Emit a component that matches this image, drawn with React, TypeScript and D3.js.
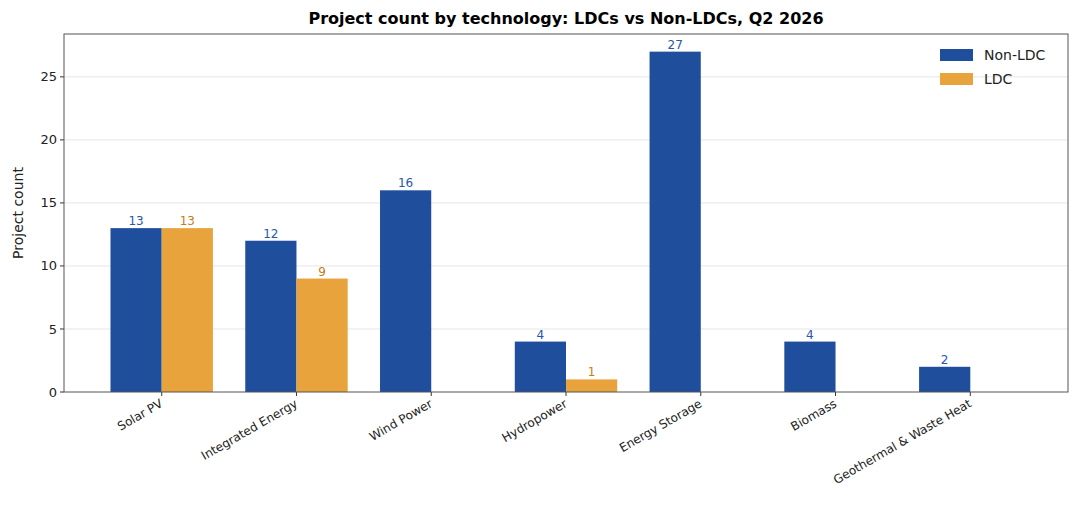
import React from "react";
import * as d3 from "d3";

const categories = ["Solar PV", "Integrated Energy", "Wind Power", "Hydropower", "Energy Storage", "Biomass", "Geothermal & Waste Heat"];
const nonLdc = [13, 12, 16, 4, 27, 4, 2];
const ldc = [13, 9, 0, 1, 0, 0, 0];
const yTicks = [0, 5, 10, 15, 20, 25];

const W = 1080, H = 516;
const L = 64, R = 1068, T = 34, B = 392;
const BLUE = "#1f4e9c", ORANGE = "#e8a33d";
const font = "DejaVu Sans, sans-serif";

export default function App() {
  const x = d3.scaleLinear().domain([-0.725, categories.length - 1 + 0.725]).range([L, R]);
  const y = d3.scaleLinear().domain([0, 28.4]).range([B, T]);
  const step = x(1) - x(0);
  const bw = step * 0.38;
  return (
    <svg width={W} height={H} style={{ position: "absolute", left: 0, top: 0 }} fontFamily={font}>
      <rect width={W} height={H} fill="#fff" />
      <text x={(L + R) / 2} y={24} textAnchor="middle" fontSize={16} fontWeight="bold">
        Project count by technology: LDCs vs Non-LDCs, Q2 2026
      </text>
      {yTicks.map((t) => (
        <g key={t}>
          {t > 0 && <line x1={L} x2={R} y1={y(t)} y2={y(t)} stroke="#e6e6e6" strokeWidth={1} />}
          <line x1={L - 4} x2={L} y1={y(t)} y2={y(t)} stroke="#333" />
          <text x={L - 7} y={y(t)} dy="0.35em" textAnchor="end" fontSize={13} fill="#222">{t}</text>
        </g>
      ))}
      {categories.map((c, i) => {
        const cx = x(i);
        return (
          <g key={c}>
            {nonLdc[i] > 0 && (
              <>
                <rect x={cx - bw} y={y(nonLdc[i])} width={bw} height={B - y(nonLdc[i])} fill={BLUE} />
                <text x={cx - bw / 2} y={y(nonLdc[i]) - 3} textAnchor="middle" fontSize={12} fill="#2a55a8">{nonLdc[i]}</text>
              </>
            )}
            {ldc[i] > 0 && (
              <>
                <rect x={cx} y={y(ldc[i])} width={bw} height={B - y(ldc[i])} fill={ORANGE} />
                <text x={cx + bw / 2} y={y(ldc[i]) - 3} textAnchor="middle" fontSize={12} fill="#c47e12">{ldc[i]}</text>
              </>
            )}
            <line x1={cx} x2={cx} y1={B} y2={B + 4} stroke="#333" />
            <text transform={`translate(${cx + 2},${B + 14}) rotate(-30)`} textAnchor="end" fontSize={12} fill="#222">{c}</text>
          </g>
        );
      })}
      <rect x={L} y={T} width={R - L} height={B - T} fill="none" stroke="#555" strokeWidth={1} />
      <text transform={`translate(23,${(T + B) / 2}) rotate(-90)`} textAnchor="middle" fontSize={14} fill="#222">Project count</text>
      <g>
        <rect x={940} y={49} width={33} height={12} fill={BLUE} />
        <text x={984} y={55} dy="0.35em" fontSize={14} fill="#222">Non-LDC</text>
        <rect x={940} y={73} width={33} height={12} fill={ORANGE} />
        <text x={984} y={79} dy="0.35em" fontSize={14} fill="#222">LDC</text>
      </g>
    </svg>
  );
}
